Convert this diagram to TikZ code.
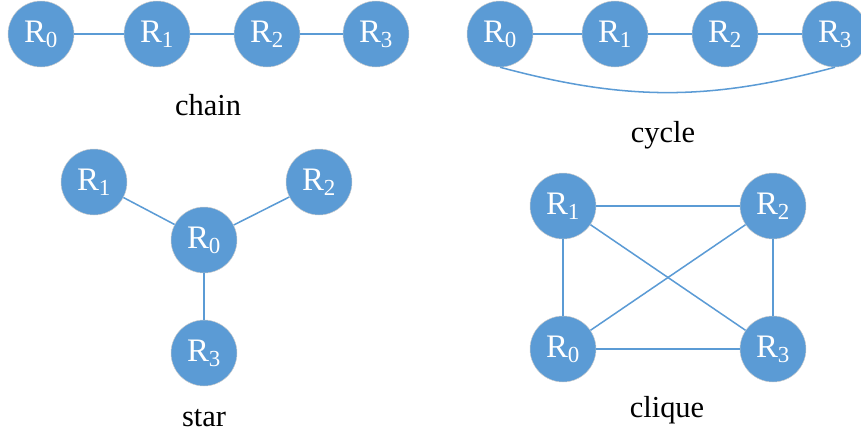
\documentclass[tikz,border=0pt]{standalone}
\usepackage{fontspec}
\setmainfont{Liberation Serif}
\definecolor{nodeblue}{HTML}{5B9BD5}
\begin{document}
\begin{tikzpicture}[x=0.03cm, y=-0.03cm,
        rnode/.style={circle, fill=nodeblue, draw=gray!40, line width=0.4pt, minimum size=1.98cm, inner sep=0pt, text=white, font=\fontsize{28}{28}\selectfont},
        edge/.style={nodeblue, line width=1.3pt},
        caption/.style={font=\fontsize{26}{26}\selectfont, text=black}]
            \useasboundingbox (0,0) rectangle (861,439);

            \node[rnode] (ch0) at (41,34) {R\textsubscript{0}};
            \node[rnode] (ch1) at (157,34) {R\textsubscript{1}};
            \node[rnode] (ch2) at (267,34) {R\textsubscript{2}};
            \node[rnode] (ch3) at (376,34) {R\textsubscript{3}};
            \node[caption] (chain) at (208,105) {chain};

            \node[rnode] (cy0) at (500,34) {R\textsubscript{0}};
            \node[rnode] (cy1) at (615,34) {R\textsubscript{1}};
            \node[rnode] (cy2) at (725,34) {R\textsubscript{2}};
            \node[rnode] (cy3) at (835,34) {R\textsubscript{3}};
            \node[caption] (cycle) at (663,135) {cycle};

            \node[rnode] (st1) at (94,182) {R\textsubscript{1}};
            \node[rnode] (st2) at (319,182) {R\textsubscript{2}};
            \node[rnode] (st0) at (204,240) {R\textsubscript{0}};
            \node[rnode] (st3) at (204,353) {R\textsubscript{3}};
            \node[caption] (star) at (204,418) {star};

            \node[rnode] (cl1) at (563,206) {R\textsubscript{1}};
            \node[rnode] (cl2) at (773,206) {R\textsubscript{2}};
            \node[rnode] (cl0) at (563,349) {R\textsubscript{0}};
            \node[rnode] (cl3) at (773,349) {R\textsubscript{3}};
            \node[caption] (clique) at (667,410) {clique};

            \draw[edge] (ch0) -- (ch1) -- (ch2) -- (ch3);
            \draw[edge] (cy0) -- (cy1) -- (cy2) -- (cy3);
            \draw[edge] (cy0.south) to[out=-15, in=195] (cy3.south);
            \draw[edge] (st0) -- (st1);
            \draw[edge] (st0) -- (st2);
            \draw[edge] (st0) -- (st3);
            \draw[edge] (cl1) -- (cl2) -- (cl3) -- (cl0) -- (cl1);
            \draw[edge] (cl1) -- (cl3);
            \draw[edge] (cl0) -- (cl2);
        \end{tikzpicture}
\end{document}
